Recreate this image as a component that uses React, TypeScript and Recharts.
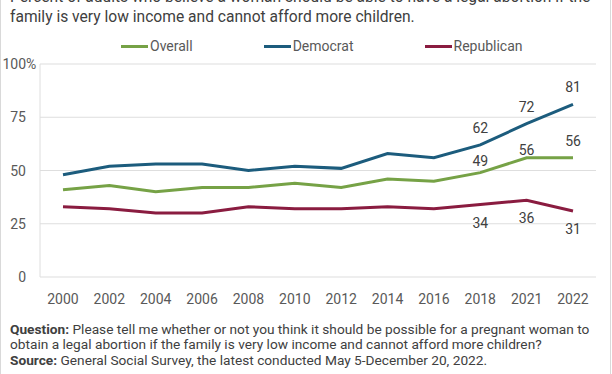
import React from 'react';
import { LineChart, Line, XAxis, YAxis, CartesianGrid, LabelList } from 'recharts';

const years = ['2000', '2002', '2004', '2006', '2008', '2010', '2012', '2014', '2016', '2018', '2021', '2022'];
const overall = [41, 43, 40, 42, 42, 44, 42, 46, 45, 49, 56, 56];
const democrat = [48, 52, 53, 53, 50, 52, 51, 58, 56, 62, 72, 81];
const republican = [33, 32, 30, 30, 33, 32, 32, 33, 32, 34, 36, 31];
const labeledYears = ['2018', '2021', '2022'];
const yTicks = [0, 25, 50, 75, 100];
const seriesNames = ['Overall', 'Democrat', 'Republican'];

const titleLines = [
  'Percent of adults who believe a woman should be able to have a legal abortion if the',
  'family is very low income and cannot afford more children.',
];
const questionLines = [
  'Please tell me whether or not you think it should be possible for a pregnant woman to',
  'obtain a legal abortion if the family is very low income and cannot afford more children?',
];
const sourceText = 'General Social Survey, the latest conducted May 5-December 20, 2022.';

const colors: Record<string, string> = {
  Overall: '#76a246',
  Democrat: '#1c5c7d',
  Republican: '#8a1c40',
};

const data = years.map((y, i) => ({
  year: y,
  Overall: overall[i],
  Democrat: democrat[i],
  Republican: republican[i],
}));

const labelOffset = (series: string, year: string): number => {
  if (series === 'Republican') return 18;
  if (series === 'Democrat') return -17;
  if (year === '2018') return -12;
  if (year === '2021') return -8;
  return -17;
};

const makeLabel = (series: string) => (props: any) => {
  const { x, y, value, index } = props;
  const year = years[index];
  if (!labeledYears.includes(year)) return null;
  return (
    <text
      x={x}
      y={y + labelOffset(series, year)}
      textAnchor="middle"
      dominantBaseline="central"
      fontSize={14}
      fontFamily="Roboto"
      fill="#404040"
    >
      {value}
    </text>
  );
};

const YTick = (props: any) => {
  const { x, y, payload } = props;
  const v = payload.value;
  return (
    <g>
      <text x={x} y={y} textAnchor="end" dominantBaseline="central" fontSize={14} fontFamily="Roboto" fill="#595959">
        {v}
      </text>
      {v === 100 ? (
        <text x={x} y={y} textAnchor="start" dominantBaseline="central" fontSize={14} fontFamily="Roboto" fill="#595959">
          %
        </text>
      ) : null}
    </g>
  );
};

export default function App() {
  return (
    <div
      style={{
        position: 'absolute',
        left: 0,
        top: 0,
        width: 612,
        height: 374,
        overflow: 'hidden',
        background: '#ffffff',
        fontFamily: 'Roboto',
      }}
    >
      <div
        style={{
          position: 'absolute',
          left: 0,
          top: -50,
          width: 611,
          height: 500,
          border: '1px solid #d9d9d9',
          boxSizing: 'border-box',
        }}
      />
      <div
        style={{
          position: 'absolute',
          left: 10,
          top: -12,
          width: 598,
          fontSize: 15.6,
          lineHeight: '19.5px',
          color: '#404040',
          whiteSpace: 'nowrap',
        }}
      >
        {titleLines.map((t) => (
          <div key={t}>{t}</div>
        ))}
      </div>
      <div
        style={{
          position: 'absolute',
          left: 121,
          top: 37,
          display: 'flex',
          gap: 71,
          alignItems: 'center',
          fontSize: 14,
          lineHeight: '18px',
          color: '#595959',
        }}
      >
        {seriesNames.map((n) => (
          <div key={n} style={{ display: 'flex', alignItems: 'center' }}>
            <span style={{ display: 'inline-block', width: 27, height: 3, background: colors[n], marginRight: 2 }} />
            <span>{n}</span>
          </div>
        ))}
      </div>
      <div style={{ position: 'absolute', left: 0, top: 0 }}>
        <LineChart width={612} height={374} data={data} margin={{ top: 64, right: 16, bottom: 67, left: 0 }}>
          <CartesianGrid vertical={false} stroke="#dedede" strokeWidth={1.2} />
          <XAxis
            dataKey="year"
            height={30}
            axisLine={false}
            tickLine={false}
            padding={{ left: 23, right: 23 }}
            tick={{ fontSize: 14, fontFamily: 'Roboto', fill: '#595959' }}
            tickMargin={11}
            interval={0}
          />
          <YAxis
            width={40}
            domain={[0, 100]}
            ticks={yTicks}
            axisLine={{ stroke: '#dedede' }}
            tickLine={false}
            tickMargin={8}
            tick={<YTick />}
            interval={0}
          />
          {seriesNames.map((n) => (
            <Line
              key={n}
              type="linear"
              dataKey={n}
              stroke={colors[n]}
              strokeWidth={3}
              dot={false}
              activeDot={false}
              isAnimationActive={false}
            >
              <LabelList dataKey={n} content={makeLabel(n)} />
            </Line>
          ))}
        </LineChart>
      </div>
      <div
        style={{
          position: 'absolute',
          left: 10,
          top: 321.5,
          width: 598,
          fontSize: 13.7,
          lineHeight: '15.7px',
          color: '#404040',
          whiteSpace: 'nowrap',
        }}
      >
        <div>
          <b>Question:</b> {questionLines[0]}
        </div>
        <div>{questionLines[1]}</div>
        <div>
          <b>Source:</b> {sourceText}
        </div>
      </div>
    </div>
  );
}
